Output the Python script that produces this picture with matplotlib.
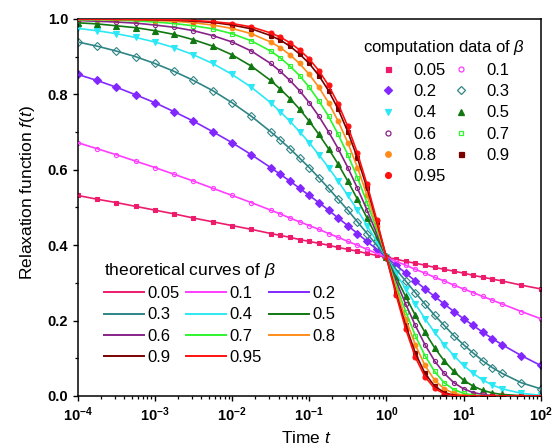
import numpy as np
import matplotlib
matplotlib.use("Agg")
import matplotlib.pyplot as plt
from matplotlib.lines import Line2D
from matplotlib.ticker import FixedLocator, LogLocator, NullFormatter, MultipleLocator, FuncFormatter

plt.rcParams['font.family'] = ['Liberation Sans', 'DejaVu Sans']
plt.rcParams['mathtext.fontset'] = 'custom'
plt.rcParams['mathtext.rm'] = 'Liberation Sans'
plt.rcParams['mathtext.it'] = 'Liberation Sans:italic'
plt.rcParams['mathtext.bf'] = 'Liberation Sans:bold'

# ---- data ----
betas = ['0.05', '0.1', '0.2', '0.3', '0.4', '0.5', '0.6', '0.7', '0.8', '0.9', '0.95']

# sample positions as decade exponents of time t
t_exp = [-4, -3.75, -3.5, -3.25, -3, -2.75, -2.5, -2.25, -2, -1.75, -1.5,
         -1.375, -1.25, -1.125, -1, -0.875, -0.75, -0.625, -0.5, -0.375, -0.25, -0.125,
         0,
         0.125, 0.25, 0.375, 0.5, 0.625, 0.75, 0.875, 1, 1.125, 1.25, 1.375,
         1.5, 1.75, 2]

f_005 = [0.532, 0.522, 0.513, 0.503, 0.493, 0.483, 0.472, 0.462, 0.452, 0.442, 0.431,
         0.426, 0.421, 0.415, 0.410, 0.405, 0.400, 0.394, 0.389, 0.384, 0.378, 0.373,
         0.368,
         0.363, 0.357, 0.352, 0.347, 0.341, 0.336, 0.331, 0.326, 0.320, 0.315, 0.310,
         0.305, 0.294, 0.284]
f_01 = [0.672, 0.656, 0.640, 0.623, 0.606, 0.588, 0.570, 0.551, 0.532, 0.513, 0.493,
        0.483, 0.472, 0.462, 0.452, 0.442, 0.431, 0.421, 0.410, 0.400, 0.389, 0.378,
        0.368,
        0.357, 0.347, 0.336, 0.326, 0.315, 0.305, 0.294, 0.284, 0.274, 0.264, 0.254,
        0.244, 0.224, 0.205]
f_02 = [0.853, 0.837, 0.819, 0.799, 0.778, 0.754, 0.729, 0.701, 0.672, 0.640, 0.606,
        0.588, 0.570, 0.551, 0.532, 0.513, 0.493, 0.472, 0.452, 0.431, 0.410, 0.389,
        0.368,
        0.347, 0.326, 0.305, 0.284, 0.264, 0.244, 0.224, 0.205, 0.187, 0.169, 0.152,
        0.136, 0.107, 0.081]
f_03 = [0.939, 0.928, 0.915, 0.900, 0.882, 0.861, 0.837, 0.810, 0.778, 0.742, 0.701,
        0.679, 0.656, 0.631, 0.606, 0.579, 0.551, 0.522, 0.493, 0.462, 0.431, 0.400,
        0.368,
        0.336, 0.305, 0.274, 0.244, 0.214, 0.187, 0.160, 0.136, 0.114, 0.093, 0.075,
        0.060, 0.035, 0.019]
f_04 = [0.975, 0.969, 0.961, 0.951, 0.939, 0.924, 0.905, 0.882, 0.853, 0.819, 0.778,
        0.754, 0.729, 0.701, 0.672, 0.640, 0.606, 0.570, 0.532, 0.493, 0.452, 0.410,
        0.368,
        0.326, 0.284, 0.244, 0.205, 0.169, 0.136, 0.107, 0.081, 0.060, 0.042, 0.029,
        0.019, 0.007, 0.002]
f_05 = [0.990, 0.987, 0.982, 0.977, 0.969, 0.959, 0.945, 0.928, 0.905, 0.875, 0.837,
        0.814, 0.789, 0.761, 0.729, 0.694, 0.656, 0.615, 0.570, 0.522, 0.472, 0.421,
        0.368,
        0.315, 0.264, 0.214, 0.169, 0.128, 0.093, 0.065, 0.042, 0.026, 0.015, 0.008,
        0.004, 0.001, 0.000]
f_06 = [0.996, 0.994, 0.992, 0.989, 0.984, 0.978, 0.969, 0.956, 0.939, 0.915, 0.882,
        0.861, 0.837, 0.810, 0.778, 0.742, 0.701, 0.656, 0.606, 0.551, 0.493, 0.431,
        0.368,
        0.305, 0.244, 0.187, 0.136, 0.093, 0.060, 0.035, 0.019, 0.009, 0.004, 0.001,
        0.000, 0.000, 0.000]
f_07 = [0.998, 0.998, 0.997, 0.995, 0.992, 0.988, 0.982, 0.974, 0.961, 0.942, 0.915,
        0.897, 0.875, 0.850, 0.819, 0.783, 0.742, 0.694, 0.640, 0.579, 0.513, 0.442,
        0.368,
        0.294, 0.224, 0.160, 0.107, 0.065, 0.035, 0.017, 0.007, 0.002, 0.001, 0.000,
        0.000, 0.000, 0.000]
f_08 = [0.999, 0.999, 0.998, 0.998, 0.996, 0.994, 0.990, 0.984, 0.975, 0.961, 0.939,
        0.924, 0.905, 0.882, 0.853, 0.819, 0.778, 0.729, 0.672, 0.606, 0.532, 0.452,
        0.368,
        0.284, 0.205, 0.136, 0.081, 0.042, 0.019, 0.007, 0.002, 0.000, 0.000, 0.000,
        0.000, 0.000, 0.000]
f_09 = [1.000, 1.000, 0.999, 0.999, 0.998, 0.997, 0.994, 0.991, 0.984, 0.974, 0.956,
        0.944, 0.928, 0.907, 0.882, 0.850, 0.810, 0.761, 0.701, 0.631, 0.551, 0.462,
        0.368,
        0.274, 0.187, 0.114, 0.060, 0.026, 0.009, 0.002, 0.000, 0.000, 0.000, 0.000,
        0.000, 0.000, 0.000]
f_095 = [1.000, 1.000, 1.000, 0.999, 0.999, 0.998, 0.996, 0.993, 0.988, 0.979, 0.963,
         0.952, 0.937, 0.918, 0.894, 0.863, 0.824, 0.775, 0.715, 0.644, 0.561, 0.467,
         0.368,
         0.269, 0.178, 0.103, 0.051, 0.020, 0.006, 0.001, 0.000, 0.000, 0.000, 0.000,
         0.000, 0.000, 0.000]

series = [f_005, f_01, f_02, f_03, f_04, f_05, f_06, f_07, f_08, f_09, f_095]

x_tick_exps = [-4, -3, -2, -1, 0, 1, 2]
y_ticks = [0.0, 0.2, 0.4, 0.6, 0.8, 1.0]

# ---- styles ----
colors = ['#EE1B6D', '#FF3CFF', '#8228FF', '#2F8585', '#2CE8F5', '#117711',
          '#882288', '#2EF52E', '#FF8C1A', '#7A0000', '#FF1010']
markers = ['s', 'o', 'D', 'D', 'v', '^', 'o', 's', 'o', 's', 'o']
filled = [True, False, True, False, True, True, False, False, True, True, True]
msizes = [3.0, 3.0, 3.8, 3.8, 4.0, 4.0, 3.0, 2.8, 3.4, 3.0, 3.6]

fig = plt.figure(figsize=(5.54, 4.48), dpi=100)
ax = fig.add_axes([0.1403, 0.1161, 0.8357, 0.8415])

t = np.power(10.0, np.array(t_exp))

marker_handles = []
line_handles = []
for i, f in enumerate(series):
    c = colors[i]
    mfc = c if filled[i] else 'white'
    ax.plot(t, f, ls='none', marker=markers[i], ms=msizes[i], mfc=mfc, mec=c,
            mew=0.8, zorder=2 + i * 0.01, clip_on=True)
    ax.plot(t, f, '-', color=c, lw=1.2, zorder=3 + i * 0.01)
    marker_handles.append(Line2D([], [], ls='none', marker=markers[i], ms=msizes[i] + 0.6,
                                 mfc=mfc, mec=c, mew=0.9))
    line_handles.append(Line2D([], [], ls='-', color=c, lw=1.4))

ax.set_xscale('log')
ax.set_xlim(1e-4, 1e2)
ax.set_ylim(0.0, 1.0)

ax.xaxis.set_major_locator(FixedLocator([10.0 ** e for e in x_tick_exps]))
ax.set_xticklabels([r'$\mathbf{10^{%d}}$' % e for e in x_tick_exps])
ax.xaxis.set_minor_locator(LogLocator(base=10, subs=np.arange(2, 10)))
ax.xaxis.set_minor_formatter(NullFormatter())
ax.yaxis.set_major_locator(FixedLocator(y_ticks))
ax.yaxis.set_major_formatter(FuncFormatter(lambda v, p: '%.1f' % v))
ax.yaxis.set_minor_locator(MultipleLocator(0.1))

ax.tick_params(which='both', direction='out', top=False, right=False)
ax.tick_params(which='major', length=3.8, width=1.0, pad=3.2, labelsize=10.5)
ax.tick_params(which='minor', length=2.2, width=0.9)
for lab in ax.get_xticklabels() + ax.get_yticklabels():
    lab.set_fontweight('bold')
for sp in ax.spines.values():
    sp.set_linewidth(1.1)

ax.set_xlabel('Time $\\it{t}$', fontsize=12.5)
ax.xaxis.set_label_coords(0.493, -0.090)
ax.set_ylabel('Relaxation function $\\it{f}$($\\it{t}$)', fontsize=12.5)
ax.yaxis.set_label_coords(-0.088, 0.54)

data_order = [0, 2, 4, 6, 8, 10, 1, 3, 5, 7, 9]
leg1 = ax.legend([marker_handles[k] for k in data_order], [betas[k] for k in data_order],
                 ncol=2, loc='upper left', bbox_to_anchor=(0.616, 0.95),
                 frameon=False, title='computation data of $\\beta$',
                 fontsize=12, title_fontsize=12, handlelength=1.2, handletextpad=0.9,
                 columnspacing=0.35, labelspacing=0.37, borderpad=0, borderaxespad=0)
ax.add_artist(leg1)

theory_order = [0, 3, 6, 9, 1, 4, 7, 10, 2, 5, 8]
leg2 = ax.legend([line_handles[k] for k in theory_order], [betas[k] for k in theory_order],
                 ncol=3, loc='upper left', bbox_to_anchor=(0.057, 0.358),
                 frameon=False, title='theoretical curves of $\\beta$', alignment='left',
                 fontsize=12, title_fontsize=12.5, handlelength=2.4, handletextpad=0.2,
                 columnspacing=0.4, labelspacing=0.37, borderpad=0, borderaxespad=0)

fig.savefig('out.png', dpi=100)
